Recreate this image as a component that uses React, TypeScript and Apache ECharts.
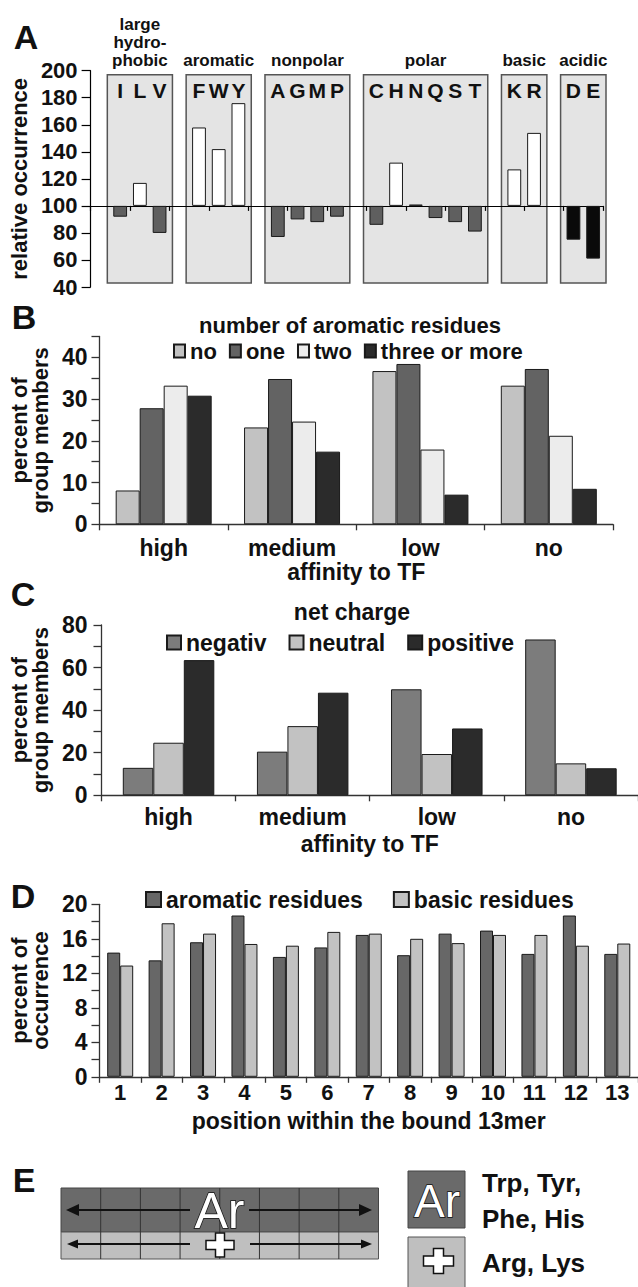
import React, { useEffect, useRef } from 'react';
import * as echarts from 'echarts';

// ---------- Panel A ----------
const aGroupNames = ['large\nhydro-\nphobic', 'aromatic', 'nonpolar', 'polar', 'basic', 'acidic'];
const aGroupResidues = [['I', 'L', 'V'], ['F', 'W', 'Y'], ['A', 'G', 'M', 'P'], ['C', 'H', 'N', 'Q', 'S', 'T'], ['K', 'R'], ['D', 'E']];
const aRelativeOccurrence = [[92, 117, 80], [158, 142, 176], [77, 90, 88, 92], [86, 132, 101, 91, 88, 81], [127, 154], [75, 61]];
const aBaseline = 100;

// ---------- Panel B ----------
const affinityCategories = ['high', 'medium', 'low', 'no'];
const aromaticCountNames = ['no', 'one', 'two', 'three or more'];
const aromaticNone = [8.1, 23.2, 36.7, 33.2];
const aromaticOne = [27.8, 34.8, 38.4, 37.2];
const aromaticTwo = [33.2, 24.6, 17.9, 21.2];
const aromaticThreePlus = [30.8, 17.4, 7.1, 8.5];

// ---------- Panel C ----------
const chargeNames = ['negativ', 'neutral', 'positive'];
const chargeNegative = [12.9, 20.5, 49.8, 73.2];
const chargeNeutral = [24.7, 32.5, 19.4, 15.0];
const chargePositive = [63.5, 48.2, 31.4, 12.7];

// ---------- Panel D ----------
const positions = ['1', '2', '3', '4', '5', '6', '7', '8', '9', '10', '11', '12', '13'];
const residueTypeNames = ['aromatic residues', 'basic residues'];
const aromaticByPosition = [14.4, 13.5, 15.6, 18.7, 13.9, 15.0, 16.45, 14.1, 16.6, 16.95, 14.25, 18.7, 14.25];
const basicByPosition = [12.9, 17.8, 16.6, 15.4, 15.2, 16.8, 16.6, 16.0, 15.5, 16.45, 16.45, 15.2, 15.45];

// ---------- Panel E ----------
const eLegendLines = ['Trp, Tyr,', 'Phe, His', 'Arg, Lys'];

const FONT = '"Liberation Sans", Arial, Helvetica, sans-serif';
const INK = '#111';
const AXIS = '#333';

function text(x: number, y: number, t: string, size: number, opts: any = {}) {
  return {
    type: 'text',
    x,
    y,
    z: opts.z ?? 5,
    style: {
      text: t,
      fill: opts.fill ?? INK,
      stroke: opts.stroke,
      lineWidth: opts.lineWidth,
      fontSize: size,
      fontWeight: opts.weight ?? 'bold',
      fontFamily: FONT,
      align: opts.align ?? 'center',
      verticalAlign: opts.verticalAlign ?? 'middle',
      lineHeight: opts.lineHeight,
    },
  };
}

function cross(cx: number, cy: number, hw: number, hh: number, a: number) {
  return {
    type: 'polygon',
    z: 6,
    shape: {
      points: [
        [cx - a, cy - hh], [cx + a, cy - hh], [cx + a, cy - a], [cx + hw, cy - a], [cx + hw, cy + a], [cx + a, cy + a],
        [cx + a, cy + hh], [cx - a, cy + hh], [cx - a, cy + a], [cx - hw, cy + a], [cx - hw, cy - a], [cx - a, cy - a],
      ],
    },
    style: { fill: '#fff', stroke: INK, lineWidth: 1.5 },
  };
}

function arrow(xFrom: number, xTip: number, y: number, head: number, half: number) {
  const dir = xTip > xFrom ? 1 : -1;
  const base = xTip - dir * head;
  return [
    { type: 'line', z: 5, shape: { x1: xFrom, y1: y, x2: base, y2: y }, style: { stroke: INK, lineWidth: 2 } },
    { type: 'polygon', z: 5, shape: { points: [[xTip, y], [base, y - half], [base, y + half]] }, style: { fill: INK } },
  ];
}

function valueAxis(gridIndex: number, min: number, max: number, interval: number, labelEvery: number, name: string, nameGap: number, labelMargin: number) {
  return {
    type: 'value',
    gridIndex,
    min,
    max,
    interval,
    name,
    nameLocation: 'middle',
    nameGap,
    nameTextStyle: { fontSize: 22, fontWeight: 'bold', color: INK, fontFamily: FONT, lineHeight: 21 },
    splitLine: { show: false },
    axisLine: { show: true, lineStyle: { color: AXIS, width: 1.3 } },
    axisTick: { show: true, length: 8, lineStyle: { color: AXIS, width: 1.3 } },
    axisLabel: {
      fontSize: 23,
      fontWeight: 'bold',
      color: INK,
      fontFamily: FONT,
      margin: labelMargin,
      formatter: (v: number) => (Math.round(v) % labelEvery === 0 ? String(v) : ''),
    },
  };
}

function categoryAxis(gridIndex: number, data: string[], name: string, labelMargin: number, nameGap: number, labelSize: number) {
  return {
    type: 'category',
    gridIndex,
    data,
    name,
    nameLocation: 'middle',
    nameGap,
    nameTextStyle: { fontSize: 23, fontWeight: 'bold', color: INK, fontFamily: FONT },
    axisLine: { show: true, lineStyle: { color: AXIS, width: 1.3 } },
    axisTick: { show: true, length: 6, lineStyle: { color: AXIS, width: 1.3 } },
    axisLabel: { fontSize: labelSize, fontWeight: 'bold', color: INK, fontFamily: FONT, margin: labelMargin, interval: 0 },
  };
}

export default function App() {
  const ref = useRef<HTMLDivElement>(null);

  useEffect(() => {
    if (!ref.current) return;
    const chart = echarts.init(ref.current, undefined, { renderer: 'svg' });

    // Panel A categories: a blank slot before each group
    const aCats: string[] = [];
    const aVals: (number | null)[] = [];
    const aGroupOf: number[] = [];
    aGroupResidues.forEach((res, g) => {
      aCats.push('gap' + g);
      aVals.push(null);
      aGroupOf.push(-1);
      res.forEach((r, i) => {
        aCats.push(r);
        aVals.push(aRelativeOccurrence[g][i]);
        aGroupOf.push(g);
      });
    });
    const aData = aVals.map((v, i) => {
      if (v == null) return '-';
      const color = aGroupOf[i] === 5 ? '#0a0a0a' : v > aBaseline ? '#ffffff' : '#5f5f5f';
      return { value: v - aBaseline, itemStyle: { color } };
    });

    const barBorder = { borderColor: '#1a1a1a', borderWidth: 1 };

    const option: any = {
      animation: false,
      textStyle: { fontFamily: FONT },
      grid: [
        { left: 90, top: 70.7, width: 513, height: 216.3 },
        { left: 94, top: 336.4, width: 519, height: 187.9 },
        { left: 95, top: 625, width: 543, height: 170.3 },
        { left: 92, top: 904.3, width: 552, height: 172.5 },
      ],
      xAxis: [
        {
          type: 'category',
          gridIndex: 0,
          data: aCats,
          position: 'bottom',
          axisLine: { show: true, onZero: true, lineStyle: { color: '#000', width: 1.2 } },
          axisTick: { show: true, length: 5, lineStyle: { color: '#000', width: 1.2 } },
          axisLabel: { show: false },
        },
        {
          type: 'category',
          gridIndex: 0,
          data: aCats,
          position: 'top',
          axisLine: { show: false, onZero: false },
          axisTick: { show: false },
          axisLabel: {
            inside: true,
            margin: 9,
            interval: 0,
            fontSize: 21,
            fontWeight: 'bold',
            color: INK,
            fontFamily: FONT,
            formatter: (v: string) => (v.startsWith('gap') ? '' : v),
          },
        },
        categoryAxis(1, affinityCategories, 'affinity to TF', 12, 36, 23),
        categoryAxis(2, affinityCategories, 'affinity to TF', 10, 37, 23),
        categoryAxis(3, positions, 'position within the bound 13mer', 5, 33, 22),
      ],
      yAxis: [
        {
          ...valueAxis(0, 40 - aBaseline, 200 - aBaseline, 20, 20, 'relative occurrence', 54, 13),
          axisLabel: {
            fontSize: 22,
            fontWeight: 'bold',
            color: INK,
            fontFamily: FONT,
            margin: 13,
            formatter: (v: number) => String(v + aBaseline),
          },
          axisLine: { show: true, lineStyle: { color: '#000', width: 1.2 } },
          axisTick: { show: true, length: 9, lineStyle: { color: '#000', width: 1.2 } },
        },
        valueAxis(1, 0, 45, 5, 10, 'percent of\ngroup members', 43, 12),
        valueAxis(2, 0, 80, 10, 20, 'percent of\ngroup members', 44, 14),
        valueAxis(3, 0, 20, 2, 4, 'percent of\noccurrence', 46, 12),
      ],
      legend: [
        {
          data: aromaticCountNames,
          left: 173,
          top: 340,
          padding: 0,
          itemGap: 12,
          itemWidth: 11,
          itemHeight: 13,
          icon: 'rect',
          selectedMode: false,
          textStyle: { fontSize: 22, fontWeight: 'bold', color: INK, fontFamily: FONT },
        },
        {
          data: chargeNames,
          left: 166,
          top: 631,
          padding: 0,
          itemGap: 22,
          itemWidth: 14,
          itemHeight: 14,
          icon: 'rect',
          selectedMode: false,
          textStyle: { fontSize: 23, fontWeight: 'bold', color: INK, fontFamily: FONT },
        },
        {
          data: residueTypeNames,
          left: 145,
          top: 888,
          padding: 0,
          itemGap: 30,
          itemWidth: 15,
          itemHeight: 15,
          icon: 'rect',
          selectedMode: false,
          textStyle: { fontSize: 23, fontWeight: 'bold', color: INK, fontFamily: FONT },
        },
      ],
      series: [
        { type: 'bar', name: 'relative occurrence', xAxisIndex: 0, yAxisIndex: 0, data: aData, barWidth: '70%', itemStyle: barBorder },

        { type: 'bar', name: aromaticCountNames[0], xAxisIndex: 2, yAxisIndex: 1, data: aromaticNone, barWidth: 24, barGap: '0%', itemStyle: { color: '#c2c2c2', ...barBorder } },
        { type: 'bar', name: aromaticCountNames[1], xAxisIndex: 2, yAxisIndex: 1, data: aromaticOne, barWidth: 24, barGap: '0%', itemStyle: { color: '#636363', ...barBorder } },
        { type: 'bar', name: aromaticCountNames[2], xAxisIndex: 2, yAxisIndex: 1, data: aromaticTwo, barWidth: 24, barGap: '0%', itemStyle: { color: '#ececec', ...barBorder } },
        { type: 'bar', name: aromaticCountNames[3], xAxisIndex: 2, yAxisIndex: 1, data: aromaticThreePlus, barWidth: 24, barGap: '0%', itemStyle: { color: '#2b2b2b', ...barBorder } },

        { type: 'bar', name: chargeNames[0], xAxisIndex: 3, yAxisIndex: 2, data: chargeNegative, barWidth: 30.5, barGap: '0%', itemStyle: { color: '#7c7c7c', ...barBorder } },
        { type: 'bar', name: chargeNames[1], xAxisIndex: 3, yAxisIndex: 2, data: chargeNeutral, barWidth: 30.5, barGap: '0%', itemStyle: { color: '#c2c2c2', ...barBorder } },
        { type: 'bar', name: chargeNames[2], xAxisIndex: 3, yAxisIndex: 2, data: chargePositive, barWidth: 30.5, barGap: '0%', itemStyle: { color: '#2b2b2b', ...barBorder } },

        { type: 'bar', name: residueTypeNames[0], xAxisIndex: 4, yAxisIndex: 3, data: aromaticByPosition, barWidth: 13, barGap: '0%', itemStyle: { color: '#676767', ...barBorder } },
        { type: 'bar', name: residueTypeNames[1], xAxisIndex: 4, yAxisIndex: 3, data: basicByPosition, barWidth: 13, barGap: '0%', itemStyle: { color: '#c2c2c2', ...barBorder } },
      ],
    };

    chart.setOption(option);

    // ----- graphics -----
    const g: any[] = [];
    // Panel letters
    g.push(text(26, 37, 'A', 34));
    g.push(text(24, 317, 'B', 34));
    g.push(text(23, 594, 'C', 34));
    g.push(text(23, 896, 'D', 34));
    g.push(text(24, 1180, 'E', 34));

    // Panel A group boxes and labels, placed through the axis scale
    const px = (cat: number, val: number) => chart.convertToPixel({ xAxisIndex: 0, yAxisIndex: 0 } as any, [cat, val - aBaseline]) as number[];
    const slot = px(1, 100)[0] - px(0, 100)[0];
    const yTop = px(0, 197)[1];
    const yBottom = px(0, 43)[1];
    aGroupResidues.forEach((res, gi) => {
      const first = aCats.indexOf(res[0]);
      const last = aCats.indexOf(res[res.length - 1]);
      const x0 = px(first, 100)[0] - slot / 2 - 3;
      const x1 = px(last, 100)[0] + slot / 2 + 3;
      g.push({
        type: 'rect',
        z: -1,
        shape: { x: x0, y: yTop, width: x1 - x0, height: yBottom - yTop },
        style: { fill: '#e4e4e4', stroke: '#555', lineWidth: 1.5 },
      });
      g.push(text((x0 + x1) / 2, yTop - 5, aGroupNames[gi], 17, { verticalAlign: 'bottom', lineHeight: 18 }));
    });

    // Panel titles
    g.push(text(350, 325, 'number of aromatic residues', 22));
    g.push(text(352, 612, 'net charge', 23));

    // Panel E schematic
    const ex0 = 61, ex1 = 378.5, eyT = 1188, eyM = 1232, eyB = 1259;
    g.push({ type: 'rect', z: 3, shape: { x: ex0, y: eyT, width: ex1 - ex0, height: eyM - eyT }, style: { fill: '#6a6a6a', stroke: '#444', lineWidth: 1 } });
    g.push({ type: 'rect', z: 3, shape: { x: ex0, y: eyM, width: ex1 - ex0, height: eyB - eyM }, style: { fill: '#bfbfbf', stroke: '#555', lineWidth: 1 } });
    for (let i = 1; i < 8; i++) {
      const x = ex0 + ((ex1 - ex0) * i) / 8;
      g.push({ type: 'line', z: 4, shape: { x1: x, y1: eyT, x2: x, y2: eyB }, style: { stroke: '#333', lineWidth: 1 } });
    }
    arrow(190, 66, 1210, 13, 6).forEach((e) => g.push(e));
    arrow(249, 372, 1210, 13, 6).forEach((e) => g.push(e));
    arrow(190, 67, 1244, 11, 4.5).forEach((e) => g.push(e));
    arrow(250, 372, 1244, 11, 4.5).forEach((e) => g.push(e));
    g.push(text(219.5, 1211, 'Ar', 50, { weight: 'normal', fill: '#fff', stroke: INK, lineWidth: 1.5, z: 6 }));
    g.push(cross(220, 1245, 14, 12, 4.5));

    g.push({ type: 'rect', z: 3, shape: { x: 408, y: 1171, width: 57, height: 57 }, style: { fill: '#6a6a6a', stroke: '#444', lineWidth: 1 } });
    g.push(text(437, 1201, 'Ar', 46, { weight: 'normal', fill: '#fff', stroke: INK, lineWidth: 1.5, z: 6 }));
    g.push({ type: 'rect', z: 3, shape: { x: 408, y: 1237, width: 57, height: 56 }, style: { fill: '#bfbfbf', stroke: '#555', lineWidth: 1 } });
    g.push(cross(438.5, 1261, 15, 12.5, 5));
    g.push(text(482, 1183, eLegendLines[0], 26, { align: 'left' }));
    g.push(text(482, 1219, eLegendLines[1], 26, { align: 'left' }));
    g.push(text(482, 1263, eLegendLines[2], 26, { align: 'left' }));

    chart.setOption({ graphic: { elements: g } });

    return () => {
      chart.dispose();
    };
  }, []);

  return <div ref={ref} style={{ position: 'absolute', left: 0, top: 0, width: 638, height: 1287 }} />;
}
